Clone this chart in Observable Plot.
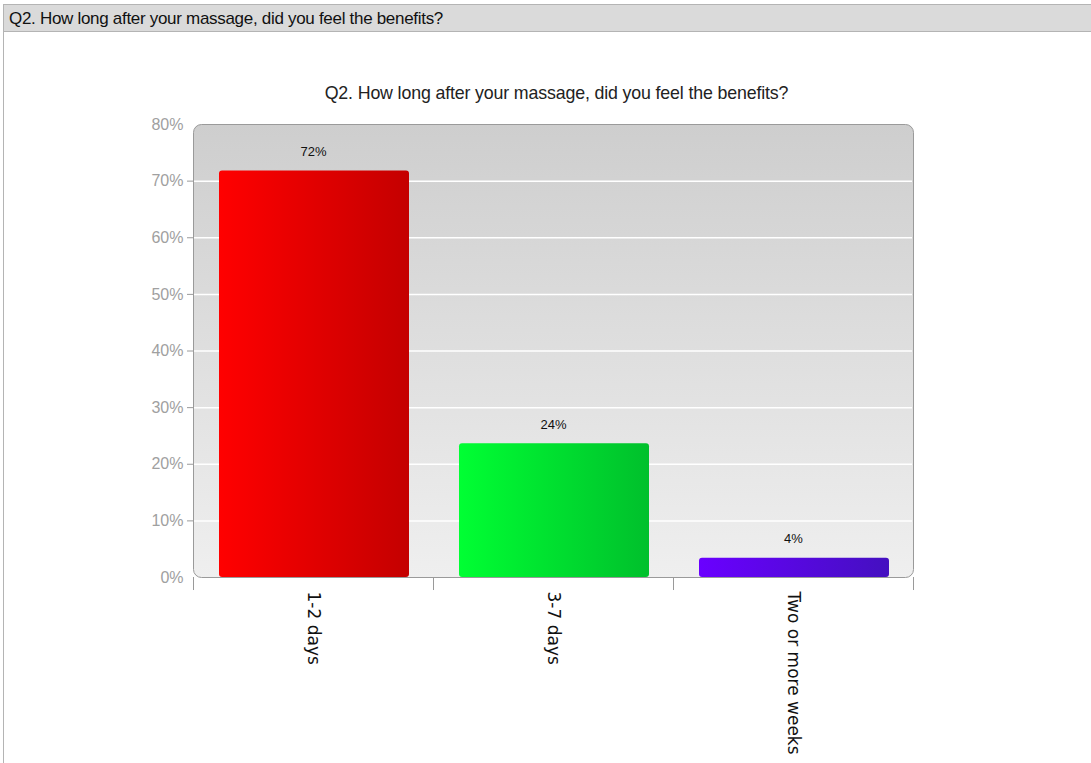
<!DOCTYPE html>
<html>
<head>
<meta charset="utf-8">
<script src="https://cdn.jsdelivr.net/npm/d3@7"></script>
<script src="https://cdn.jsdelivr.net/npm/@observablehq/plot@0.6"></script>
<style>
  html, body { margin: 0; padding: 0; background: #fff; }
  #wrap { position: relative; width: 1091px; height: 763px; overflow: hidden; font-family: "Liberation Sans", Arial, sans-serif; }
  #header { position: absolute; left: 3px; top: 4px; width: 1090px; height: 28px; background: #dadada; border: 1px solid #b4b4b4; box-sizing: border-box; font-size: 17px; letter-spacing: -0.3px; line-height: 27px; padding-left: 5px; color: #111; z-index: 2; }
  #leftline { position: absolute; left: 3px; top: 4px; width: 0; height: 760px; border-left: 1px solid #b4b4b4; }
  #title { position: absolute; left: 0; width: 1113px; top: 83px; text-align: center; font-size: 17.8px; letter-spacing: -0.15px; color: #222; z-index: 2; }
  #chart { position: absolute; left: 0; top: 0; }
</style>
</head>
<body>
<div id="wrap">
  <div id="leftline"></div>
  <div id="header"></div>
  <div id="title"></div>
  <div id="chart"></div>
</div>
<script>
const headerText = "Q2. How long after your massage, did you feel the benefits?";
const titleText = "Q2. How long after your massage, did you feel the benefits?";
const categories = ["1-2 days", "3-7 days", "Two or more weeks"];
const values = [71.8, 23.6, 3.4];
const valueLabels = ["72%", "24%", "4%"];
const gradients = ["url(#gRed)", "url(#gGreen)", "url(#gPurple)"];
const yTicks = [0, 10, 20, 30, 40, 50, 60, 70, 80];
const gridValues = [10, 20, 30, 40, 50, 60, 70];

document.getElementById("header").textContent = headerText;
document.getElementById("title").textContent = titleText;

const data = categories.map((c, i) => ({cat: c, value: values[i], label: valueLabels[i], grad: gradients[i]}));

const W = 1091, H = 763;
const mL = 193, mR = 178, mT = 124, mB = 186;
const bw = (W - mL - mR) / categories.length;

const plot = Plot.plot({
  width: W,
  height: H,
  marginLeft: mL,
  marginRight: mR,
  marginTop: mT,
  marginBottom: mB,
  style: {fontFamily: "'Liberation Sans', Arial, sans-serif", background: "transparent", overflow: "visible"},
  x: {domain: categories, padding: 0, axis: null},
  y: {domain: [0, 80], axis: null},
  color: {type: "identity"},
  marks: [
    Plot.frame({fill: "url(#gBg)", stroke: "#9a9a9a", rx: 8}),
    Plot.ruleY(gridValues, {stroke: "#ffffff", strokeWidth: 1.5, insetLeft: 1, insetRight: 1}),
    Plot.axisY({ticks: yTicks, tickFormat: d => d + "%", tickSize: 0, tickPadding: 10, fontSize: 16, color: "#a0a0a0", label: null}),
    Plot.axisY({ticks: gridValues, tickFormat: () => "", tickSize: 6, color: "#9a9a9a", label: null}),
    Plot.ruleX(categories, {x: d => d, dx: -bw / 2, y1: 0, y2: -2.3, stroke: "#9a9a9a"}),
    Plot.ruleX(categories.slice(-1), {x: d => d, dx: bw / 2, y1: 0, y2: -2.3, stroke: "#9a9a9a"}),
    Plot.barY(data, {x: "cat", y: "value", fill: "grad", insetLeft: 26, insetRight: 24, rx: 3}),
    Plot.text(data, {x: "cat", y: "value", text: "label", dy: -19, fontSize: 13, fill: "#111"}),
    Plot.text(categories, {x: d => d, y: 0, dy: 14, rotate: 90, textAnchor: "start", lineAnchor: "middle", fontSize: 17, fill: "#111", fontFamily: "'DejaVu Sans', sans-serif"})
  ]
});

const defs = d3.select(plot).insert("defs", ":first-child");
function hgrad(id, c0, c1) {
  const g = defs.append("linearGradient").attr("id", id).attr("x1", "0").attr("y1", "0").attr("x2", "1").attr("y2", "0");
  g.append("stop").attr("offset", "0").attr("stop-color", c0);
  g.append("stop").attr("offset", "1").attr("stop-color", c1);
}
hgrad("gRed", "#ff0000", "#c40000");
hgrad("gGreen", "#00ff33", "#00c02c");
hgrad("gPurple", "#6a00ff", "#4410c0");
const bg = defs.append("linearGradient").attr("id", "gBg").attr("x1", "0").attr("y1", "0").attr("x2", "0").attr("y2", "1");
bg.append("stop").attr("offset", "0").attr("stop-color", "#cecece");
bg.append("stop").attr("offset", "1").attr("stop-color", "#efefef");

document.getElementById("chart").appendChild(plot);
</script>
</body>
</html>
